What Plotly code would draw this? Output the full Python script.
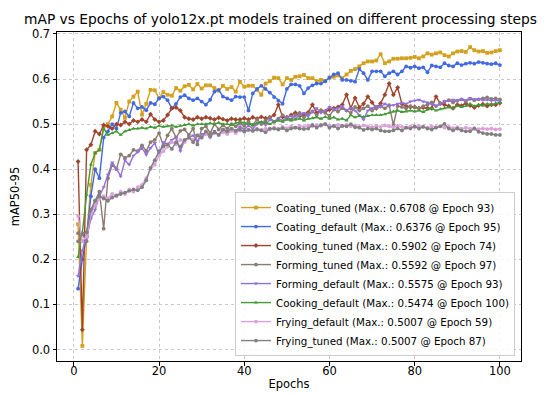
import plotly.graph_objects as go

epochs = list(range(1, 101))

coating_tuned = [0.278, 0.008, 0.25, 0.365, 0.436, 0.443, 0.495, 0.50, 0.517, 0.547,
                 0.532, 0.514, 0.55, 0.561, 0.572, 0.521, 0.545, 0.576, 0.575, 0.558,
                 0.571, 0.565, 0.563, 0.58, 0.574, 0.584, 0.587, 0.577, 0.589, 0.579,
                 0.586, 0.586, 0.58, 0.574, 0.585, 0.578, 0.582, 0.572, 0.594, 0.583,
                 0.585, 0.585, 0.576, 0.565, 0.59, 0.595, 0.603, 0.602, 0.588, 0.602,
                 0.598, 0.605, 0.606, 0.609, 0.602, 0.602, 0.595, 0.598, 0.596, 0.603,
                 0.605, 0.608, 0.602, 0.61, 0.618, 0.622, 0.628, 0.635, 0.639, 0.639,
                 0.641, 0.655, 0.635, 0.639, 0.645, 0.645, 0.646, 0.646, 0.647, 0.649,
                 0.646, 0.65, 0.657, 0.654, 0.657, 0.659, 0.653, 0.65, 0.657, 0.661,
                 0.662, 0.66, 0.6708, 0.664, 0.661, 0.662, 0.658, 0.659, 0.662, 0.664]

coating_default = [0.135, 0.20, 0.25, 0.34, 0.40, 0.38, 0.47, 0.484, 0.50, 0.49,
                   0.525, 0.528, 0.517, 0.547, 0.535, 0.538, 0.531, 0.547, 0.544, 0.557,
                   0.561, 0.553, 0.535, 0.545, 0.56, 0.564, 0.557, 0.553, 0.557, 0.55,
                   0.543, 0.554, 0.572, 0.576, 0.561, 0.557, 0.553, 0.561, 0.56, 0.56,
                   0.53, 0.568, 0.578, 0.585, 0.578, 0.57, 0.56, 0.552, 0.545, 0.578,
                   0.588, 0.588, 0.585, 0.568, 0.58, 0.586, 0.59, 0.59, 0.595, 0.603,
                   0.61, 0.613, 0.598, 0.598, 0.596, 0.594, 0.622, 0.613, 0.598, 0.617,
                   0.617, 0.617, 0.606, 0.613, 0.617, 0.61, 0.617, 0.628, 0.625, 0.628,
                   0.624, 0.626, 0.615, 0.63, 0.628, 0.626, 0.635, 0.63, 0.628, 0.635,
                   0.631, 0.634, 0.636, 0.634, 0.6376, 0.636, 0.634, 0.633, 0.635, 0.631]

cooking_tuned = [0.417, 0.044, 0.443, 0.454, 0.484, 0.478, 0.498, 0.495, 0.49, 0.50,
                 0.498, 0.505, 0.50, 0.508, 0.505, 0.51, 0.505, 0.522, 0.51, 0.505,
                 0.508, 0.52, 0.535, 0.537, 0.53, 0.515, 0.512, 0.51, 0.515, 0.512,
                 0.515, 0.513, 0.51, 0.514, 0.511, 0.508, 0.512, 0.51, 0.51, 0.513,
                 0.51, 0.515, 0.512, 0.516, 0.513, 0.515, 0.52, 0.543, 0.516, 0.515,
                 0.52, 0.525, 0.518, 0.52, 0.526, 0.543, 0.525, 0.53, 0.528, 0.532,
                 0.535, 0.538, 0.543, 0.565, 0.535, 0.558, 0.537, 0.545, 0.561, 0.548,
                 0.535, 0.546, 0.565, 0.5902, 0.565, 0.581, 0.545, 0.54, 0.538, 0.538,
                 0.535, 0.537, 0.535, 0.535, 0.561, 0.546, 0.543, 0.54, 0.535, 0.543,
                 0.541, 0.546, 0.541, 0.537, 0.541, 0.544, 0.54, 0.543, 0.543, 0.547]

forming_tuned = [0.258, 0.256, 0.24, 0.30, 0.33, 0.35, 0.268, 0.38, 0.41, 0.40,
                 0.433, 0.425, 0.43, 0.443, 0.44, 0.453, 0.44, 0.46, 0.465, 0.48,
                 0.452, 0.475, 0.49, 0.47, 0.485, 0.488, 0.476, 0.49, 0.455, 0.49,
                 0.495, 0.48, 0.5, 0.488, 0.498, 0.49, 0.5, 0.495, 0.502, 0.496,
                 0.505, 0.498, 0.51, 0.5, 0.508, 0.515, 0.505, 0.512, 0.52, 0.515,
                 0.51, 0.52, 0.525, 0.515, 0.522, 0.528, 0.52, 0.53, 0.525, 0.518,
                 0.532, 0.528, 0.535, 0.53, 0.525, 0.538, 0.53, 0.535, 0.54, 0.53,
                 0.536, 0.54, 0.535, 0.542, 0.498, 0.54, 0.538, 0.535, 0.54, 0.537,
                 0.535, 0.54, 0.543, 0.548, 0.54, 0.545, 0.55, 0.553, 0.548, 0.552,
                 0.555, 0.55, 0.556, 0.553, 0.555, 0.557, 0.5592, 0.556, 0.557, 0.555]

forming_default = [0.163, 0.22, 0.25, 0.29, 0.31, 0.34, 0.36, 0.388, 0.415, 0.401,
                   0.384, 0.42, 0.41, 0.43, 0.438, 0.447, 0.432, 0.447, 0.458, 0.432,
                   0.46, 0.455, 0.465, 0.47, 0.44, 0.465, 0.47, 0.475, 0.462, 0.478,
                   0.48, 0.47, 0.485, 0.476, 0.488, 0.48, 0.49, 0.485, 0.495, 0.488,
                   0.497, 0.49, 0.5, 0.505, 0.498, 0.51, 0.505, 0.512, 0.508, 0.515,
                   0.518, 0.512, 0.52, 0.525, 0.518, 0.528, 0.535, 0.525, 0.53, 0.538,
                   0.532, 0.535, 0.54, 0.53, 0.536, 0.53, 0.52, 0.51, 0.53, 0.535,
                   0.54, 0.538, 0.545, 0.54, 0.542, 0.545, 0.547, 0.545, 0.55, 0.552,
                   0.554, 0.55, 0.548, 0.544, 0.54, 0.545, 0.55, 0.552, 0.554, 0.552,
                   0.555, 0.553, 0.5575, 0.555, 0.556, 0.553, 0.554, 0.552, 0.553, 0.551]

cooking_default = [0.205, 0.26, 0.343, 0.41, 0.436, 0.443, 0.49, 0.476, 0.48, 0.484,
                   0.476, 0.484, 0.487, 0.49, 0.49, 0.492, 0.49, 0.494, 0.492, 0.496,
                   0.494, 0.495, 0.497, 0.494, 0.496, 0.498, 0.5, 0.497, 0.5, 0.5,
                   0.5, 0.502, 0.5, 0.503, 0.5, 0.5, 0.498, 0.502, 0.505, 0.503,
                   0.5, 0.498, 0.502, 0.505, 0.503, 0.5, 0.505, 0.508, 0.505, 0.51,
                   0.508, 0.51, 0.512, 0.508, 0.512, 0.513, 0.515, 0.512, 0.516, 0.512,
                   0.515, 0.51, 0.512, 0.508, 0.52, 0.515, 0.518, 0.516, 0.518, 0.52,
                   0.52, 0.52, 0.522, 0.525, 0.528, 0.53, 0.527, 0.528, 0.53, 0.528,
                   0.53, 0.527, 0.532, 0.535, 0.53, 0.533, 0.535, 0.537, 0.535, 0.54,
                   0.538, 0.54, 0.545, 0.54, 0.543, 0.541, 0.545, 0.543, 0.546, 0.5474]

frying_default = [0.296, 0.24, 0.25, 0.30, 0.32, 0.335, 0.34, 0.335, 0.345, 0.34,
                  0.35, 0.345, 0.355, 0.35, 0.36, 0.365, 0.38, 0.40, 0.41, 0.43,
                  0.44, 0.45, 0.46, 0.455, 0.465, 0.46, 0.47, 0.465, 0.475, 0.47,
                  0.478, 0.472, 0.48, 0.476, 0.482, 0.478, 0.485, 0.48, 0.486, 0.483,
                  0.488, 0.485, 0.49, 0.487, 0.49, 0.488, 0.492, 0.49, 0.494, 0.491,
                  0.495, 0.492, 0.496, 0.494, 0.497, 0.495, 0.498, 0.496, 0.5007, 0.497,
                  0.495, 0.498, 0.496, 0.499, 0.495, 0.497, 0.494, 0.497, 0.495, 0.493,
                  0.496, 0.494, 0.497, 0.495, 0.493, 0.496, 0.494, 0.492, 0.495, 0.493,
                  0.496, 0.494, 0.492, 0.495, 0.493, 0.495, 0.492, 0.494, 0.491, 0.493,
                  0.49, 0.492, 0.49, 0.491, 0.489, 0.49, 0.489, 0.49, 0.488, 0.489]

frying_tuned = [0.24, 0.256, 0.26, 0.31, 0.33, 0.34, 0.335, 0.33, 0.337, 0.342,
                0.345, 0.348, 0.352, 0.355, 0.353, 0.36, 0.375, 0.403, 0.42, 0.44,
                0.45, 0.455, 0.445, 0.46, 0.45, 0.465, 0.47, 0.46, 0.475, 0.47,
                0.484, 0.473, 0.482, 0.476, 0.488, 0.484, 0.49, 0.485, 0.488, 0.484,
                0.487, 0.485, 0.488, 0.486, 0.482, 0.49, 0.49, 0.488, 0.491, 0.486,
                0.49, 0.492, 0.49, 0.489, 0.49, 0.498, 0.492, 0.498, 0.5, 0.492,
                0.496, 0.49, 0.496, 0.495, 0.5, 0.493, 0.492, 0.487, 0.49, 0.488,
                0.49, 0.486, 0.484, 0.484, 0.486, 0.49, 0.486, 0.492, 0.49, 0.495,
                0.49, 0.494, 0.49, 0.488, 0.492, 0.495, 0.5007, 0.49, 0.486, 0.49,
                0.486, 0.484, 0.484, 0.49, 0.483, 0.48, 0.478, 0.478, 0.476, 0.476]

series = [
    ("Coating_tuned (Max.: 0.6708 @ Epoch 93)", coating_tuned, "#D4A020", "square"),
    ("Coating_default (Max.: 0.6376 @ Epoch 95)", coating_default, "#4169E1", "circle"),
    ("Cooking_tuned (Max.: 0.5902 @ Epoch 74)", cooking_tuned, "#A0452D", "diamond"),
    ("Forming_tuned (Max.: 0.5592 @ Epoch 97)", forming_tuned, "#8C7B70", "circle"),
    ("Forming_default (Max.: 0.5575 @ Epoch 93)", forming_default, "#9370DB", "triangle-down"),
    ("Cooking_default (Max.: 0.5474 @ Epoch 100)", cooking_default, "#449A38", "triangle-up"),
    ("Frying_default (Max.: 0.5007 @ Epoch 59)", frying_default, "#DDA0DD", "circle"),
    ("Frying_tuned (Max.: 0.5007 @ Epoch 87)", frying_tuned, "#808080", "circle"),
]

fig = go.Figure()
for name, vals, color, sym in series:
    fig.add_trace(go.Scatter(
        x=epochs, y=vals, name=name, mode="lines+markers",
        line=dict(color=color, width=1.4),
        marker=dict(color=color, size=3.8, symbol=sym),
    ))

font = "DejaVu Sans, Liberation Sans, sans-serif"
axis_common = dict(
    showline=True, linecolor="black", linewidth=1, mirror=True,
    ticks="outside", ticklen=3.5, tickcolor="black", tickwidth=1,
    showgrid=True, gridcolor="#c8c8c8", griddash="dot", gridwidth=0.8,
    zeroline=False, automargin=False,
    tickfont=dict(size=11.5, color="black", family=font),
)

fig.update_layout(
    width=550, height=396,
    margin=dict(l=49, r=37, t=24, b=43),
    paper_bgcolor="white", plot_bgcolor="white",
    font=dict(family=font, color="black"),
    title=dict(text="mAP vs Epochs of yolo12x.pt models trained on different processing steps",
               x=16 / 550, xanchor="left", y=1 - 11 / 396, yanchor="middle",
               font=dict(size=13.8, family=font, color="black")),
    xaxis=dict(range=[-3.95, 104.95], tickvals=[0, 20, 40, 60, 80, 100],
               ticklabelstandoff=-4,
               title=dict(text="Epochs", font=dict(size=11.5), standoff=2), **axis_common),
    yaxis=dict(range=[-0.0255, 0.7043], tickvals=[0, 0.1, 0.2, 0.3, 0.4, 0.5, 0.6, 0.7],
               tickformat=".1f",
               title=dict(text="mAP50-95", font=dict(size=11.5), standoff=10), **axis_common),
    legend=dict(x=0.987, y=0.015, xanchor="right", yanchor="bottom",
                bgcolor="rgba(255,255,255,0.85)", bordercolor="#cccccc", borderwidth=1,
                font=dict(size=10.3, family=font, color="black"),
                itemwidth=30, tracegroupgap=0),
    showlegend=True,
)

fig.write_html("out.html")
